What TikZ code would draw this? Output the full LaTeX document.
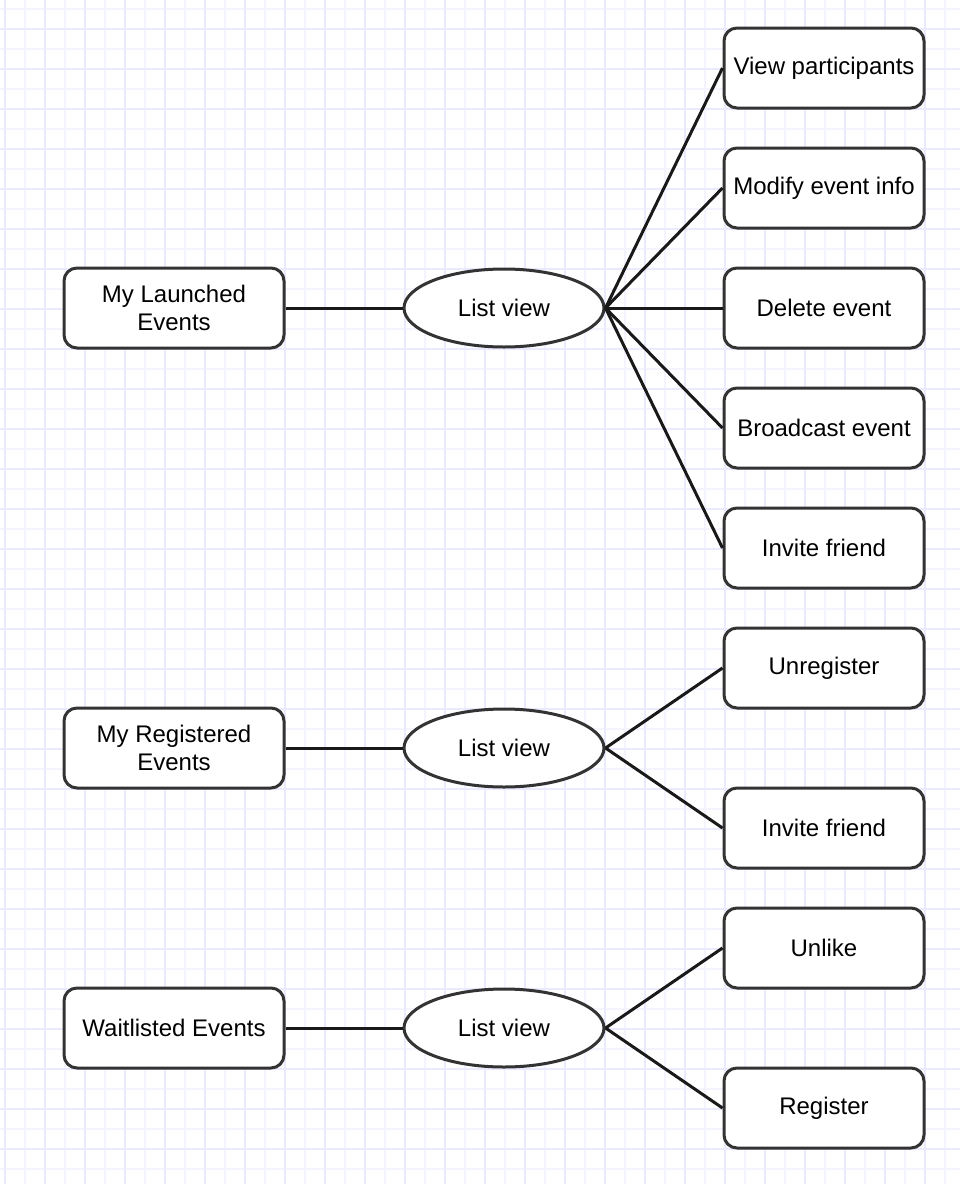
\documentclass[tikz,border=0pt]{standalone}
\usepackage{fontspec}
\setmainfont{Liberation Sans}
\usetikzlibrary{shapes.geometric}
\definecolor{gridmajor}{RGB}{234,234,255}
\definecolor{gridminor}{RGB}{244,244,255}
\definecolor{edgecol}{RGB}{51,51,51}
\begin{document}
\begin{tikzpicture}[x=1pt,y=-1pt,
  lbox/.style={draw=edgecol, line width=3pt, rounded corners=13pt, fill=white,
    minimum width=220pt, minimum height=80pt, align=center, inner sep=0pt,
    font=\fontsize{24}{28}\selectfont},
  rbox/.style={lbox, minimum width=200pt},
  listell/.style={ellipse, draw=edgecol, line width=3pt, fill=white,
    minimum width=200pt, minimum height=78pt, inner sep=0pt,
    font=\fontsize{24}{28}\selectfont},
  conn/.style={draw=black!90, line width=3pt},
  gmaj/.style={draw=gridmajor, line width=1.6pt},
  gmin/.style={draw=gridminor, line width=1.6pt}]
\useasboundingbox (0,0) rectangle (960,1184);
\fill[white] (0,0) rectangle (960,1184);
% grid
\foreach \x in {25,65,...,945} \draw[gmin] (\x,0) -- (\x,1184);
\foreach \y in {9,49,...,1169} \draw[gmin] (0,\y) -- (960,\y);
\foreach \x in {5,45,...,925} \draw[gmaj] (\x,0) -- (\x,1184);
\foreach \y in {29,69,...,1149} \draw[gmaj] (0,\y) -- (960,\y);

% left boxes
\node[lbox] (l1) at (174,308) {My Launched\\Events};
\node[lbox] (l2) at (174,748) {My Registered\\Events};
\node[lbox] (l3) at (174,1028) {Waitlisted Events};

% ellipses
\node[listell] (e1) at (504,308) {List view};
\node[listell] (e2) at (504,748) {List view};
\node[listell] (e3) at (504,1028) {List view};

% right boxes
\node[rbox] (r1) at (824,68) {View participants};
\node[rbox] (r2) at (824,188) {Modify event info};
\node[rbox] (r3) at (824,308) {Delete event};
\node[rbox] (r4) at (824,428) {Broadcast event};
\node[rbox] (r5) at (824,548) {Invite friend};
\node[rbox] (r6) at (824,668) {Unregister};
\node[rbox] (r7) at (824,828) {Invite friend};
\node[rbox] (r8) at (824,948) {Unlike};
\node[rbox] (r9) at (824,1108) {Register};

% connectors
\draw[conn] (l1.east) -- (e1.west);
\draw[conn] (l2.east) -- (e2.west);
\draw[conn] (l3.east) -- (e3.west);
\foreach \r in {r1,r2,r3,r4,r5} \draw[conn] (e1.east) -- (\r.west);
\foreach \r in {r6,r7} \draw[conn] (e2.east) -- (\r.west);
\foreach \r in {r8,r9} \draw[conn] (e3.east) -- (\r.west);
\end{tikzpicture}
\end{document}
